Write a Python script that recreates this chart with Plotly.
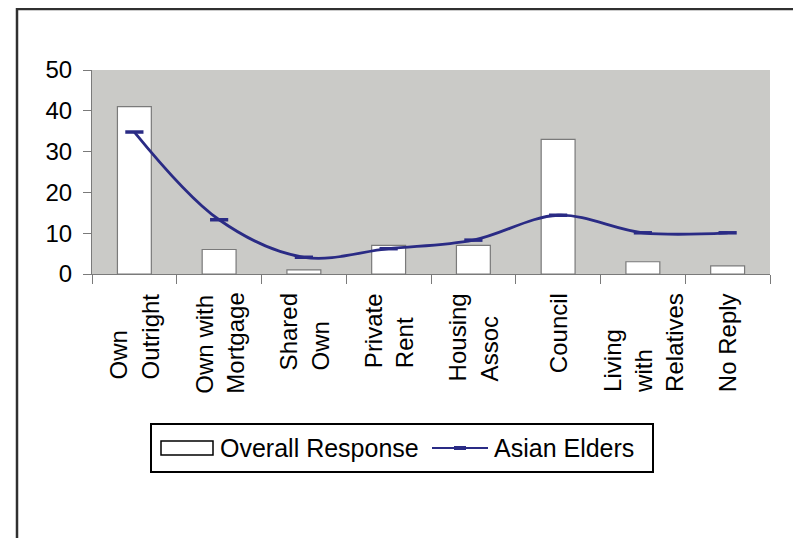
import plotly.graph_objects as go

categories = ['Own Outright', 'Own with Mortgage', 'Shared Own', 'Private Rent',
              'Housing Assoc', 'Council', 'Living with Relatives', 'No Reply']
tick_labels = ['Own<br>Outright', 'Own with<br>Mortgage', 'Shared<br>Own', 'Private<br>Rent',
               'Housing<br>Assoc', 'Council', 'Living<br>with<br>Relatives', 'No Reply']
overall_response = [41, 6, 1, 7, 7, 33, 3, 2]
asian_elders = [34.8, 13.3, 4.1, 6.2, 8.3, 14.4, 10.1, 10.1]
series_names = ['Overall Response', 'Asian Elders']

FONT = 'Liberation Sans, Arial, sans-serif'
NAVY = '#2a2b85'
GREY = '#7a7a7a'

# plot area in page pixels (the page adds an 8px body margin)
PX0, PX1, PY0, PY1 = 92, 770, 70, 274


def px(x):
    return (x - PX0) / (PX1 - PX0)


def py(y):
    return (PY1 - y) / (PY1 - PY0)


fig = go.Figure()

fig.add_trace(go.Bar(
    x=categories, y=overall_response, name=series_names[0], showlegend=False,
    width=0.4, marker=dict(color='white', line=dict(color=GREY, width=1.2))
))

fig.add_trace(go.Scatter(
    x=categories, y=asian_elders, name=series_names[1], mode='lines+markers', showlegend=False,
    line=dict(color=NAVY, width=2.8, shape='spline', smoothing=1),
    marker=dict(symbol='line-ew', size=13, line=dict(color=NAVY, width=3.5))
))

# category labels, rotated, lines aligned like the original
for cat, lab in zip(categories, tick_labels):
    fig.add_annotation(x=cat, y=0, yref='paper', text=lab, showarrow=False,
                       textangle=-90, align='left', xanchor='center', yanchor='top',
                       yshift=-17, font=dict(family=FONT, size=24, color='black'))

# outer frame (runs off the right and bottom edges)
fig.add_shape(type='rect', xref='paper', yref='paper',
              x0=px(17), x1=px(900), y0=py(700), y1=py(9),
              line=dict(color='#303030', width=2.5))

# legend drawn by hand to get the wide Excel-style key
fig.add_shape(type='rect', xref='paper', yref='paper',
              x0=px(151), x1=px(653), y0=py(472), y1=py(424),
              line=dict(color='black', width=2), fillcolor='white')
fig.add_shape(type='rect', xref='paper', yref='paper',
              x0=px(161), x1=px(213), y0=py(455), y1=py(441),
              line=dict(color='black', width=1.5), fillcolor='white')
fig.add_shape(type='line', xref='paper', yref='paper',
              x0=px(432), x1=px(488), y0=py(448), y1=py(448),
              line=dict(color=NAVY, width=2))
fig.add_shape(type='line', xref='paper', yref='paper',
              x0=px(454), x1=px(466), y0=py(448), y1=py(448),
              line=dict(color=NAVY, width=4))
fig.add_annotation(xref='paper', yref='paper', x=px(218), y=py(448), text=series_names[0],
                   showarrow=False, xanchor='left', yanchor='middle',
                   font=dict(family=FONT, size=25, color='black'))
fig.add_annotation(xref='paper', yref='paper', x=px(492), y=py(448), text=series_names[1],
                   showarrow=False, xanchor='left', yanchor='middle',
                   font=dict(family=FONT, size=25, color='black'))

fig.update_layout(
    width=793, height=530,
    margin=dict(l=PX0 - 8, r=801 - PX1 - 8 + 8, t=PY0 - 8, b=530 - (PY1 - 8)),
    paper_bgcolor='white', plot_bgcolor='#cacac7',
    font=dict(family=FONT, size=24, color='black'),
    showlegend=False,
    bargap=0.6,
)

fig.update_xaxes(showticklabels=False, showline=True, linecolor=GREY, linewidth=1.2,
                 ticks='outside', tickson='boundaries', ticklen=9, tickcolor=GREY,
                 showgrid=False, zeroline=False)
fig.update_yaxes(range=[0, 50], dtick=10, showline=True, linecolor=GREY, linewidth=1.2,
                 ticks='outside', ticklen=8, tickcolor=GREY, showgrid=False,
                 zeroline=False, ticklabelstandoff=6)

fig.write_html('out.html')
